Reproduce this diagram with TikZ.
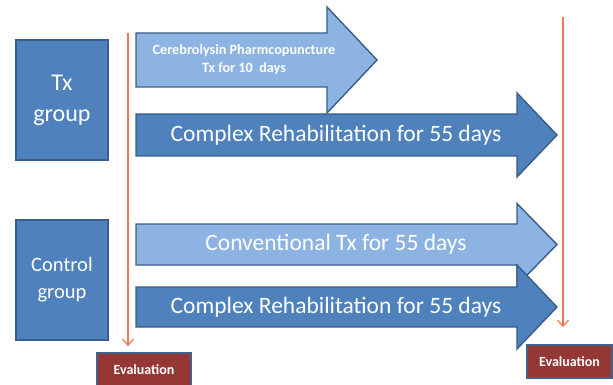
\documentclass[tikz,border=0pt]{standalone}
\usepackage{fontspec}
\setmainfont{Carlito}
\usetikzlibrary{arrows.meta}
\definecolor{darkblue}{HTML}{4F81BD}
\definecolor{lightblue}{HTML}{8DB3E2}
\definecolor{blueedge}{HTML}{385D8A}
\definecolor{evalred}{HTML}{953735}
\definecolor{lineorange}{HTML}{F07850}

\begin{document}
\begin{tikzpicture}[x=1pt, y=-1pt,
every node/.style={text=white, inner sep=0pt, align=center},
groupbox/.style={draw=blueedge, line width=1.4pt, fill=darkblue,
    minimum width=92pt, minimum height=120pt},
evalbox/.style={draw=blueedge!85!gray, line width=1.8pt, fill=evalred,
    font=\fontsize{14}{16}\selectfont\bfseries},
flow/.style={draw=blueedge, line width=1.4pt, line join=miter},
bigtext/.style={font=\fontsize{23.5}{28}\selectfont},
timeline/.style={draw=lineorange, line width=1.2pt,
    -{Straight Barb[length=6pt,width=11pt]}}
]
\useasboundingbox (0,0) rectangle (613,385);

% groups
\node[groupbox, font=\fontsize{24}{31}\selectfont] (txgroup) at (62,100) {Tx\\group};
\node[groupbox, font=\fontsize{20.5}{27}\selectfont] (ctlgroup) at (62,280) {Control\\group};

% treatment arrows
\foreach \yt/\yb/\xh/\xt/\hw/\fc in {33/87/327/377/53/lightblue,
                                   114/156/517/557/42/darkblue,
                                   224/265/517/557/41/lightblue,
                                   287/327/517/557/42/darkblue}
    \draw[flow, fill=\fc] (136,\yt) -- (\xh,\yt) -- (\xh,{(\yt+\yb)/2-\hw})
        -- (\xt,{(\yt+\yb)/2}) -- (\xh,{(\yt+\yb)/2+\hw}) -- (\xh,\yb)
        -- (136,\yb) -- cycle;

\node[font=\fontsize{14.2}{18}\selectfont\bfseries] (cerebro) at (244,60)
    {Cerebrolysin Pharmcopuncture\\Tx for 10\ \ days};
\node[bigtext] (rehabtx) at (336,135) {Complex Rehabilitation for 55 days};
\node[bigtext] (conv) at (336,244.5) {Conventional Tx for 55 days};
\node[bigtext] (rehabctl) at (336,307) {Complex Rehabilitation for 55 days};

% evaluations
\node[evalbox, minimum width=94pt, minimum height=34pt] (evalpre) at (144,370) {Evaluation};
\node[evalbox, minimum width=85pt, minimum height=33pt] (evalpost) at (569.5,361.5) {Evaluation};

\coordinate (pretop) at (128,33);
\coordinate (posttop) at (563,17);
\draw[timeline] (pretop) -- ([yshift=6pt]pretop |- evalpre.north);
\draw[timeline] (posttop) -- ([yshift=17pt]posttop |- evalpost.north);

\end{tikzpicture}
\end{document}
